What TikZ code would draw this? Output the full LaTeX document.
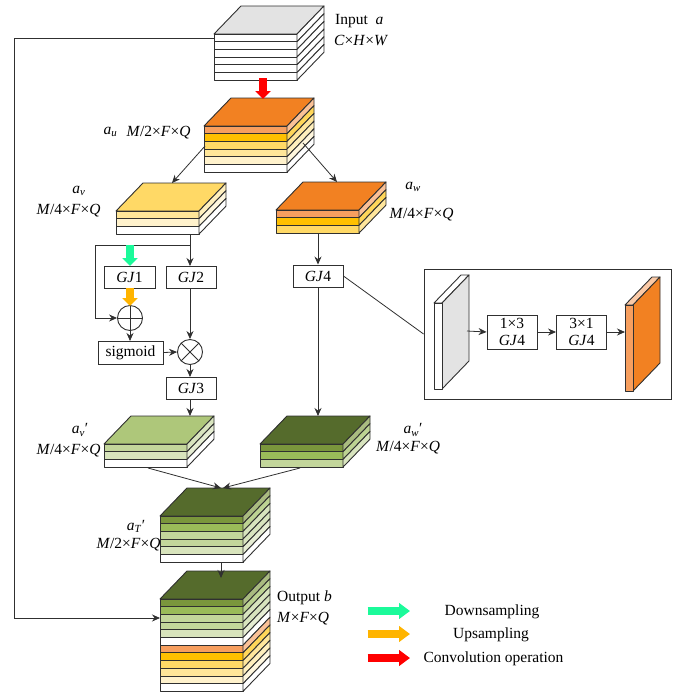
\documentclass[tikz,border=0pt]{standalone}
\usepackage{fontspec}
\setmainfont{Liberation Serif}
\usetikzlibrary{arrows.meta}

\definecolor{topgray}{HTML}{E3E3E3}
\definecolor{toporange}{HTML}{F28122}
\definecolor{topyellow}{HTML}{FFD966}
\definecolor{toplime}{HTML}{AEC77A}
\definecolor{topolive}{HTML}{556B2C}
\definecolor{lyA}{HTML}{F79F5F}
\definecolor{lyB}{HTML}{FFC000}
\definecolor{lyC}{HTML}{FFD966}
\definecolor{lyD}{HTML}{FFE699}
\definecolor{lyE}{HTML}{FFF2CC}
\definecolor{lyF}{HTML}{7A963C}
\definecolor{lyG}{HTML}{9ABB59}
\definecolor{lyH}{HTML}{C3D69B}
\definecolor{lyI}{HTML}{D8E4BC}
\definecolor{dnarrow}{HTML}{1BFA9A}
\definecolor{uparrow}{HTML}{FFB400}
\definecolor{linecol}{HTML}{303030}

\tikzset{
  layer/.style={draw=linecol, line width=0.9pt, line join=round},
  flow/.style={draw=linecol, line width=0.8pt, -{Stealth[length=8pt,width=7pt]}},
  gjbox/.style={draw=linecol, line width=0.9pt, minimum width=50pt, minimum height=22pt, inner sep=0pt, font=\fontsize{15.5}{17}\selectfont},
  opnode/.style={circle, draw=linecol, line width=0.9pt, minimum size=25pt, inner sep=0pt},
  blockarrow/.style={line width=8.5pt, -{Triangle[length=8pt,width=15pt]}},
  legendarrow/.style={line width=8pt, -{Triangle[length=11pt,width=15.5pt]}},
  lab/.style={inner sep=0pt, font=\fontsize{15.5}{17}\selectfont},
}

% stack of layers: left, front top, top colour, layer colours
\newcommand{\layerstack}[4]{
  \fill[#3, layer] (#1,#2) -- ++(27,-28) -- ++(83,0) -- ++(-27,28) -- cycle;
  \foreach \col [count=\i] in {#4} {
    \pgfmathsetmacro{\ya}{#2+7.7*(\i-1)}
    \draw[layer, fill=\col] (#1,\ya) rectangle ++(83,7.7);
    \draw[layer, fill=\col!65!white] (#1+83,\ya) -- ++(27,-28) -- ++(0,7.7) -- ++(-27,28) -- cycle;
  }
}
\newcommand{\mfq}[1]{\textit{M}/#1×\textit{F}×\textit{Q}}

\begin{document}
\begin{tikzpicture}[x=1pt, y=-1pt]
\useasboundingbox (0,0) rectangle (679,694);

% Stacks
\layerstack{214}{34}{topgray}{white,white,white,white,white,white}
\layerstack{204}{126}{toporange}{lyA,lyB,lyC,lyD,lyE,white}
\layerstack{116}{211}{topyellow}{lyD,lyE,white}
\layerstack{276}{210}{toporange}{lyA,lyB,lyC}
\layerstack{104}{444}{toplime}{lyH,lyI,white}
\layerstack{260}{444}{topolive}{lyF,lyG,lyH}
\layerstack{160}{516}{topolive}{lyF,lyG,lyH,lyH,lyI,white}
\layerstack{160}{599}{topolive}{lyF,lyG,lyH,lyH,lyI,white,lyA,lyB,lyC,lyD,lyE,white}

% Stack anchors
\coordinate (inW) at (214,38);
\coordinate (inS) at (263,78);
\coordinate (auN) at (263,99);
\coordinate (auL) at (205,146);
\coordinate (auR) at (303,143);
\coordinate (avN) at (172,183);
\coordinate (avS) at (190,234);
\coordinate (awN) at (337,182);
\coordinate (awS) at (318,233);
\coordinate (avpN) at (190,416);
\coordinate (avpS) at (148,468);
\coordinate (awpN) at (318,416);
\coordinate (awpS) at (300,468);
\coordinate (atNl) at (221,488);
\coordinate (atNr) at (223,488);
\coordinate (atS) at (221,562);
\coordinate (outN) at (221,578);
\coordinate (outW) at (160,618);
\coordinate (branch) at (190,245);

% Boxes
\node[gjbox, minimum width=51pt] (gjone) at (129.5,277) {\textit{GJ}1};
\node[gjbox] (gjtwo) at (191,277) {\textit{GJ}2};
\node[gjbox, minimum width=65pt, minimum height=23pt] (sigmoid) at (130.5,352.5) {sigmoid};
\node[gjbox] (gjthree) at (191,388) {\textit{GJ}3};
\node[gjbox] (gjfour) at (318,276) {\textit{GJ}4};

% Operators
\node[opnode, path picture={
  \draw[linecol, line width=0.9pt] (path picture bounding box.north) -- (path picture bounding box.south);
  \draw[linecol, line width=0.9pt] (path picture bounding box.west) -- (path picture bounding box.east);
}] (oplus) at (130,318) {};
\node[opnode, path picture={
  \draw[linecol, line width=0.9pt] (path picture bounding box.north west) -- (path picture bounding box.south east);
  \draw[linecol, line width=0.9pt] (path picture bounding box.north east) -- (path picture bounding box.south west);
}] (otimes) at (190,352) {};

% Connectors
\draw[flow] (inW) -- (14,38) -- (14,618) -- (outW);
\draw[flow] (auL) -- (avN);
\draw[flow] (auR) -- (awN);
\draw[flow] (avS) -- (190,266);
\draw[flow] (branch) -- (95,245) -- (95,318) -- (oplus.west);
\draw[flow] (oplus.south) -- (130,341);
\draw[flow] (sigmoid.east) -- (otimes.west);
\draw[flow] (190,288) -- (otimes.north);
\draw[flow] (otimes.south) -- (190,377);
\draw[flow] (190,399) -- (avpN);
\draw[flow] (awS) -- (gjfour.north);
\draw[flow] (gjfour.south) -- (awpN);
\draw[flow] (avpS) -- (atNl);
\draw[flow] (awpS) -- (atNr);
\draw[flow] (atS) -- (outN);

% Block arrows
\draw[blockarrow, red] (inS) -- (auN);
\draw[blockarrow, dnarrow] (130,245) -- (130,266);
\draw[blockarrow, uparrow] (130,288) -- (130,306);

% Panel
\node[draw=linecol, line width=0.9pt, minimum width=247pt, minimum height=130pt, inner sep=0pt] (panel) at (547.5,334) {};
\draw[linecol, line width=0.8pt] (gjfour.east) -- (panel.west);

% Slab in panel
\fill[white, layer] (434,303) -- ++(27,-28) -- ++(8,0) -- ++(-27,28) -- cycle;
\fill[topgray, layer] (442,303) -- ++(27,-28) -- ++(0,86) -- ++(-27,28) -- cycle;
\draw[layer, fill=white] (434,303) rectangle (442,389);

% Slab out of panel
\fill[lyA!55!white, layer] (625,305) -- ++(27,-28) -- ++(8,0) -- ++(-27,28) -- cycle;
\fill[toporange, layer] (633,305) -- ++(27,-28) -- ++(0,86) -- ++(-27,28) -- cycle;
\draw[layer, fill=lyA] (625,305) rectangle (633,391);

\coordinate (slabin) at (467,331);
\coordinate (slabout) at (625,332);
\node[gjbox, minimum height=34pt, align=center, font=\fontsize{15.5}{15}\selectfont] (kone) at (512,332) {1×3\\[2pt]\textit{GJ}4};
\node[gjbox, minimum height=34pt, align=center, font=\fontsize{15.5}{15}\selectfont] (ktwo) at (581.5,332) {3×1\\[2pt]\textit{GJ}4};
\draw[flow] (slabin) -- (kone.west);
\draw[flow] (kone.east) -- (ktwo.west);
\draw[flow] (ktwo.east) -- (slabout);

% Labels
\node[lab, anchor=west] (inA) at (335,21) {Input~ \textit{a}};
\node[lab, anchor=west] (inB) at (334,40) {\textit{C}×\textit{H}×\textit{W}};
\node[lab] (auA) at (110.5,132) {\textit{a}\textsubscript{\textit{u}}};
\node[lab] (auB) at (158.5,133) {\mfq{2}};
\node[lab] (avA) at (79,191) {\textit{a}\textsubscript{\textit{v}}};
\node[lab] (avB) at (68.5,211) {\mfq{4}};
\node[lab] (awA) at (413,187) {\textit{a}\textsubscript{\textit{w}}};
\node[lab] (awB) at (421.5,215) {\mfq{4}};
\node[lab] (avpA) at (80,430) {\textit{a}\textsubscript{\textit{v}}′};
\node[lab] (avpB) at (68.5,451) {\mfq{4}};
\node[lab] (awpA) at (413,430) {\textit{a}\textsubscript{\textit{w}}′};
\node[lab] (awpB) at (408,448) {\mfq{4}};
\node[lab] (atA) at (136,526) {\textit{a}\textsubscript{\textit{T}}′};
\node[lab] (atB) at (128.5,545) {\mfq{2}};
\node[lab, anchor=west] (outA) at (277,598) {Output \textit{b}};
\node[lab, anchor=west] (outB) at (277,619) {\textit{M}×\textit{F}×\textit{Q}};

% Legend
\coordinate (lgA) at (367.5,611);
\coordinate (lgB) at (410,611);
\coordinate (lgC) at (367.5,634);
\coordinate (lgD) at (410,634);
\coordinate (lgE) at (367.5,658);
\coordinate (lgF) at (410,658);
\draw[legendarrow, dnarrow] (lgA) -- (lgB);
\draw[legendarrow, uparrow] (lgC) -- (lgD);
\draw[legendarrow, red] (lgE) -- (lgF);
\node[lab] (lgdown) at (492,612) {Downsampling};
\node[lab] (lgup) at (491,635) {Upsampling};
\node[lab] (lgconv) at (493.5,659) {Convolution operation};
\end{tikzpicture}
\end{document}
